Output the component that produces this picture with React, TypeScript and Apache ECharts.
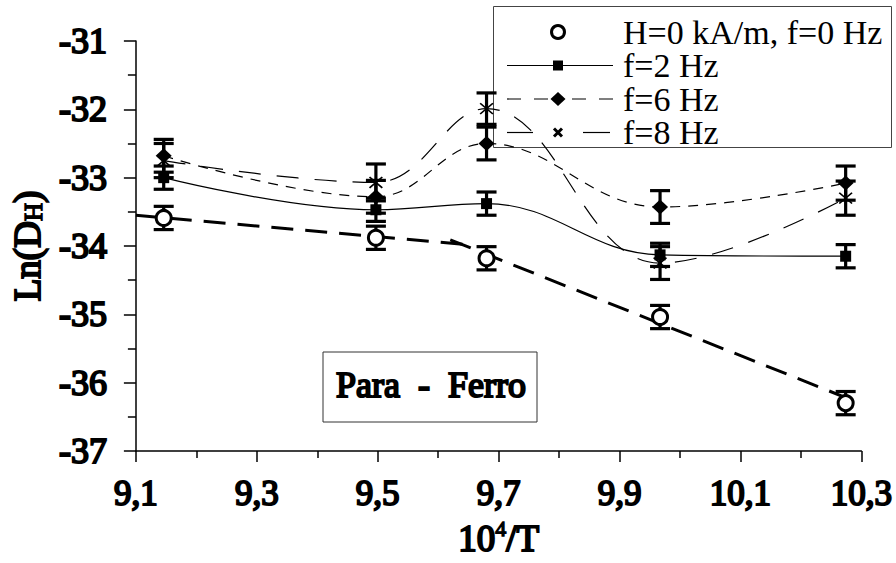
import React, { useEffect, useRef } from 'react';
import * as echarts from 'echarts';

// Inverse temperature, 10^4/T
const invTemp = [9.146, 9.497, 9.68, 9.967, 10.274];
// Ln(D_H) for each excitation
const lnD0 = [-33.59, -33.88, -34.18, -35.04, -36.3];
const lnD2 = [-33.0, -33.47, -33.38, -34.13, -34.15];
const lnD6 = [-32.68, -33.28, -32.5, -33.43, -33.08];
const lnD8 = [-32.75, -33.07, -31.99, -34.25, -33.3];
// Error half-widths
const err0 = [0.17, 0.17, 0.17, 0.17, 0.17];
const err2 = [0.17, 0.17, 0.17, 0.17, 0.17];
const err6 = [0.24, 0.24, 0.24, 0.24, 0.25];
const err8 = [0.25, 0.27, 0.23, 0.24, 0.25];

// Linear fits of the zero-field data in the two regimes
const paraFitX = [9.1, 9.66];
const paraFitY = [-33.55, -33.99];
const ferroFitX = [9.62, 10.28];
const ferroFitY = [-33.91, -36.24];

const xMin = 9.1;
const xMax = 10.3;
const xStep = 0.2;
const yMin = -37;
const yMax = -31;
const yStep = 1;

const seriesNames = ['H=0 kA/m, f=0 Hz', 'f=2 Hz', 'f=6 Hz', 'f=8 Hz'];
const regionLabel = 'Para  -  Ferro';

const FONT = 'Liberation Serif';
// heavy strokes stand in for a bold serif face
const heavy = { textBorderColor: '#000', textBorderWidth: 2 };
const ASTERISK =
  'path://M9 0h2v20h-2z M1.5 3L3 1.5L18.5 17L17 18.5Z M17 1.5L18.5 3L3 18.5L1.5 17Z';

const pairs = (xs: number[], ys: number[]) => xs.map((x, i) => [x, ys[i]]);

const errorBars = (ys: number[], errs: number[]) => ({
  type: 'custom',
  silent: true,
  z: 3,
  encode: { x: 0, y: 1 },
  data: invTemp.map((t, i) => [t, ys[i], errs[i]]),
  renderItem: (_params: any, api: any) => {
    const x = api.value(0);
    const y = api.value(1);
    const e = api.value(2);
    const hi = api.coord([x, y + e]);
    const lo = api.coord([x, y - e]);
    const half = 10;
    const style = { stroke: '#000', lineWidth: 3.2, fill: 'none' };
    return {
      type: 'group',
      children: [
        { type: 'line', shape: { x1: hi[0], y1: hi[1], x2: lo[0], y2: lo[1] }, style },
        { type: 'line', shape: { x1: hi[0] - half, y1: hi[1], x2: hi[0] + half, y2: hi[1] }, style },
        { type: 'line', shape: { x1: lo[0] - half, y1: lo[1], x2: lo[0] + half, y2: lo[1] }, style },
      ],
    };
  },
});

function legendGraphic() {
  const bx = 493.5;
  const by = 6.5;
  const rows = [32, 65.5, 99, 132.5];
  const lx0 = 507;
  const lx1 = 613;
  const cx = 558;
  const tx = 623;
  const thin = { stroke: '#000', lineWidth: 1.2 };
  const children: any[] = [
    { type: 'rect', shape: { x: bx, y: by, width: 398, height: 141 }, style: { fill: '#fff', stroke: '#444', lineWidth: 1 } },
    // open circle
    { type: 'circle', shape: { cx, cy: rows[0], r: 6.5 }, style: { fill: '#fff', stroke: '#000', lineWidth: 3 } },
    // solid line + square
    { type: 'line', shape: { x1: lx0, y1: rows[1], x2: lx1, y2: rows[1] }, style: thin },
    { type: 'rect', shape: { x: cx - 5, y: rows[1] - 5, width: 10, height: 10 }, style: { fill: '#000' } },
    // short dashes + diamond
    { type: 'line', shape: { x1: lx0, y1: rows[2], x2: 548, y2: rows[2] }, style: { ...thin, lineDash: [14, 13] } },
    { type: 'line', shape: { x1: 572, y1: rows[2], x2: lx1, y2: rows[2] }, style: { ...thin, lineDash: [14, 13] } },
    {
      type: 'polygon',
      shape: { points: [[cx - 7.5, rows[2]], [cx, rows[2] - 7], [cx + 7.5, rows[2]], [cx, rows[2] + 7]] },
      style: { fill: '#000' },
    },
    // long dashes + cross
    { type: 'line', shape: { x1: lx0, y1: rows[3], x2: 533, y2: rows[3] }, style: thin },
    { type: 'line', shape: { x1: 583, y1: rows[3], x2: 610, y2: rows[3] }, style: thin },
    { type: 'line', shape: { x1: cx - 4, y1: rows[3] - 4, x2: cx + 4, y2: rows[3] + 4 }, style: { stroke: '#000', lineWidth: 3 } },
    { type: 'line', shape: { x1: cx - 4, y1: rows[3] + 4, x2: cx + 4, y2: rows[3] - 4 }, style: { stroke: '#000', lineWidth: 3 } },
  ];
  seriesNames.forEach((name, i) => {
    children.push({
      type: 'text',
      x: tx,
      y: rows[i],
      style: { text: name, fill: '#000', fontFamily: FONT, fontSize: 34, align: 'left', verticalAlign: 'middle' },
    });
  });
  return { type: 'group', z: 100, children };
}

function regionBox() {
  return {
    type: 'group',
    z: 100,
    children: [
      { type: 'rect', shape: { x: 323, y: 352, width: 214, height: 70 }, style: { fill: '#fff', stroke: '#333', lineWidth: 1 } },
      {
        type: 'text',
        x: 431,
        y: 385,
        style: {
          text: regionLabel,
          fill: '#000',
          fontFamily: FONT,
          fontSize: 36,
          align: 'center',
          verticalAlign: 'middle',
          stroke: '#000',
          lineWidth: 2,
        },
      },
    ],
  };
}

export default function App() {
  const ref = useRef<HTMLDivElement>(null);

  useEffect(() => {
    if (!ref.current) return;
    const chart = echarts.init(ref.current, undefined, { renderer: 'svg' });
    const axisLine = { lineStyle: { color: '#000', width: 1.5 } };
    const labelStyle = { color: '#000', fontFamily: FONT, ...heavy };

    chart.setOption({
      animation: false,
      backgroundColor: '#fff',
      grid: { left: 125, top: 41, width: 738, height: 410, containLabel: false },
      xAxis: {
        type: 'value',
        min: xMin,
        max: xMax,
        interval: xStep,
        name: '{a|10}{s|4}{a|/T}',
        nameLocation: 'middle',
        nameGap: 66,
        nameTextStyle: {
          rich: {
            a: { fontFamily: FONT, fontSize: 37, lineHeight: 42, color: '#000', ...heavy },
            s: { fontFamily: FONT, fontSize: 22, verticalAlign: 'top', color: '#000', textBorderColor: '#000', textBorderWidth: 1.3 },
          },
        },
        axisLine,
        axisTick: { show: true, length: 11, lineStyle: { color: '#000', width: 1.5 } },
        minorTick: { show: true, splitNumber: 2, length: 7, lineStyle: { color: '#000', width: 1.5 } },
        splitLine: { show: false },
        axisLabel: { ...labelStyle, fontSize: 35, margin: 25, formatter: (v: number) => v.toFixed(1).replace('.', ',') },
      },
      yAxis: {
        type: 'value',
        min: yMin,
        max: yMax,
        interval: yStep,
        name: '{a|Ln(D}{h|H}{a|)}',
        nameLocation: 'middle',
        nameRotate: 90,
        nameGap: 80,
        nameTextStyle: {
          rich: {
            a: { fontFamily: FONT, fontSize: 37, lineHeight: 37, color: '#000', ...heavy },
            h: { fontFamily: FONT, fontSize: 25, verticalAlign: 'bottom', color: '#000', textBorderColor: '#000', textBorderWidth: 1.4 },
          },
        },
        axisLine,
        axisTick: { show: true, length: 12, lineStyle: { color: '#000', width: 1.5 } },
        minorTick: { show: true, splitNumber: 2, length: 8, lineStyle: { color: '#000', width: 1.5 } },
        splitLine: { show: false },
        axisLabel: { ...labelStyle, fontSize: 36, margin: 29, formatter: (v: number) => String(v) },
      },
      series: [
        {
          type: 'line',
          data: pairs(paraFitX, paraFitY),
          symbol: 'none',
          silent: true,
          z: 2,
          lineStyle: { color: '#000', width: 3, type: [22, 12] },
        },
        {
          type: 'line',
          data: pairs(ferroFitX, ferroFitY),
          symbol: 'none',
          silent: true,
          z: 2,
          lineStyle: { color: '#000', width: 3, type: [22, 12] },
        },
        errorBars(lnD0, err0),
        errorBars(lnD2, err2),
        errorBars(lnD6, err6),
        errorBars(lnD8, err8),
        {
          name: seriesNames[1],
          type: 'line',
          data: pairs(invTemp, lnD2),
          smooth: 0.4,
          z: 4,
          symbol: 'rect',
          symbolSize: 11,
          itemStyle: { color: '#000' },
          lineStyle: { color: '#000', width: 1.2 },
        },
        {
          name: seriesNames[2],
          type: 'line',
          data: pairs(invTemp, lnD6),
          smooth: 0.4,
          z: 4,
          symbol: 'diamond',
          symbolSize: [16, 15],
          itemStyle: { color: '#000' },
          lineStyle: { color: '#000', width: 1.2, type: [10, 8] },
        },
        {
          name: seriesNames[3],
          type: 'line',
          data: pairs(invTemp, lnD8),
          smooth: 0.4,
          z: 4,
          symbol: ASTERISK,
          symbolSize: 14,
          itemStyle: { color: '#000' },
          lineStyle: { color: '#000', width: 1.2, type: [22, 16] },
        },
        {
          name: seriesNames[0],
          type: 'scatter',
          data: pairs(invTemp, lnD0),
          z: 5,
          symbol: 'circle',
          symbolSize: 15,
          itemStyle: { color: '#fff', borderColor: '#000', borderWidth: 3, opacity: 1 },
        },
      ],
      graphic: [legendGraphic(), regionBox()],
    });

    return () => chart.dispose();
  }, []);

  return <div ref={ref} style={{ position: 'absolute', left: 0, top: 0, width: 896, height: 563 }} />;
}
